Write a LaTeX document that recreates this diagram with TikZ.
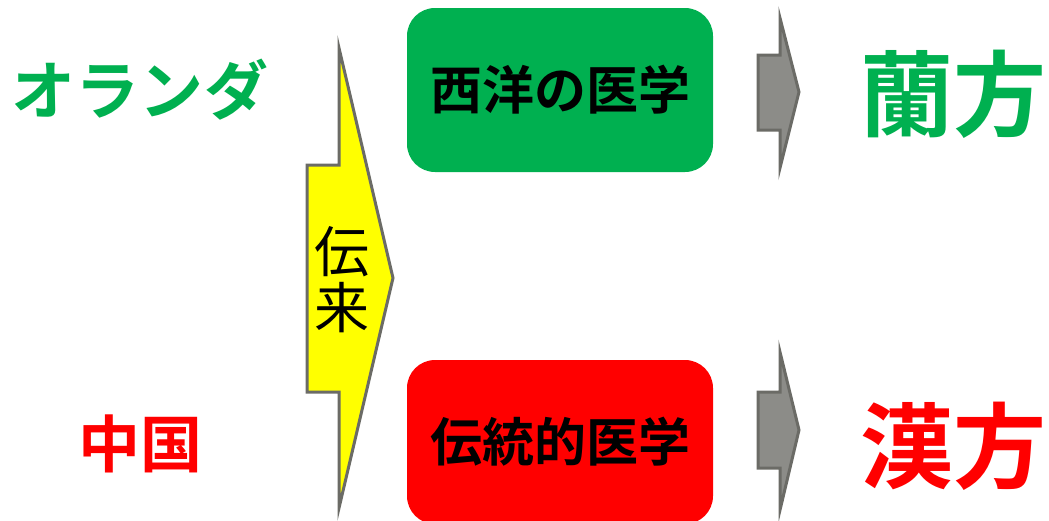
\documentclass[tikz,border=0pt]{standalone}
\usepackage{fontspec}
\newfontfamily\jpfont{Noto Sans CJK JP}
\newfontfamily\jpbold{Noto Sans CJK JP Bold}
\definecolor{mygreen}{HTML}{00B050}
\definecolor{myred}{HTML}{FF0000}
\definecolor{myyellow}{HTML}{FFFF00}
\definecolor{arrowgray}{HTML}{8C8C88}
\definecolor{edgegray}{HTML}{6B6B66}
\tikzset{
  label/.style={inner sep=0pt, anchor=center},
  medbox/.style={draw=none, rounded corners=28pt, inner sep=0pt, minimum width=306pt, minimum height=164pt},
  blockarrow/.style={draw=edgegray, line width=3pt, line join=miter},
}
\begin{document}
\begin{tikzpicture}[x=1pt,y=-1pt]
\useasboundingbox (0,0) rectangle (1049,520);
% left labels
\node[label, text=mygreen, font=\jpbold\fontsize{64}{64}\selectfont] (nl) at (140,90) {オランダ};
\node[label, text=myred, font=\jpbold\fontsize{62}{62}\selectfont] (cn) at (140,444) {中国};
% yellow transmission arrow
\path[blockarrow, fill=myyellow] (339,48) -- (393,278) -- (339,508) -- (339,392) -- (307,392) -- (307,165) -- (339,165) -- cycle;
\node[label, font=\jpfont\fontsize{55}{56}\selectfont, align=center] (den) at (342,280) {伝\\来};
% boxes
\node[medbox, fill=mygreen, font=\jpbold\fontsize{52}{52}\selectfont] (west) at (560,90) {西洋の医学};
\node[medbox, fill=myred, font=\jpbold\fontsize{52}{52}\selectfont] (trad) at (560,442) {伝統的医学};
% gray arrows
\path[blockarrow, fill=arrowgray] (780,18) -- (799,92) -- (780,168) -- (780,130) -- (758,130) -- (758,55) -- (780,55) -- cycle;
\path[blockarrow, fill=arrowgray] (780,352) -- (799,430) -- (780,510) -- (780,468) -- (758,468) -- (758,392) -- (780,392) -- cycle;
% right labels
\node[label, text=mygreen, font=\jpbold\fontsize{93}{93}\selectfont] (ran) at (953,94) {蘭方};
\node[label, text=myred, font=\jpbold\fontsize{93}{93}\selectfont] (kan) at (953,446) {漢方};
\end{tikzpicture}
\end{document}
